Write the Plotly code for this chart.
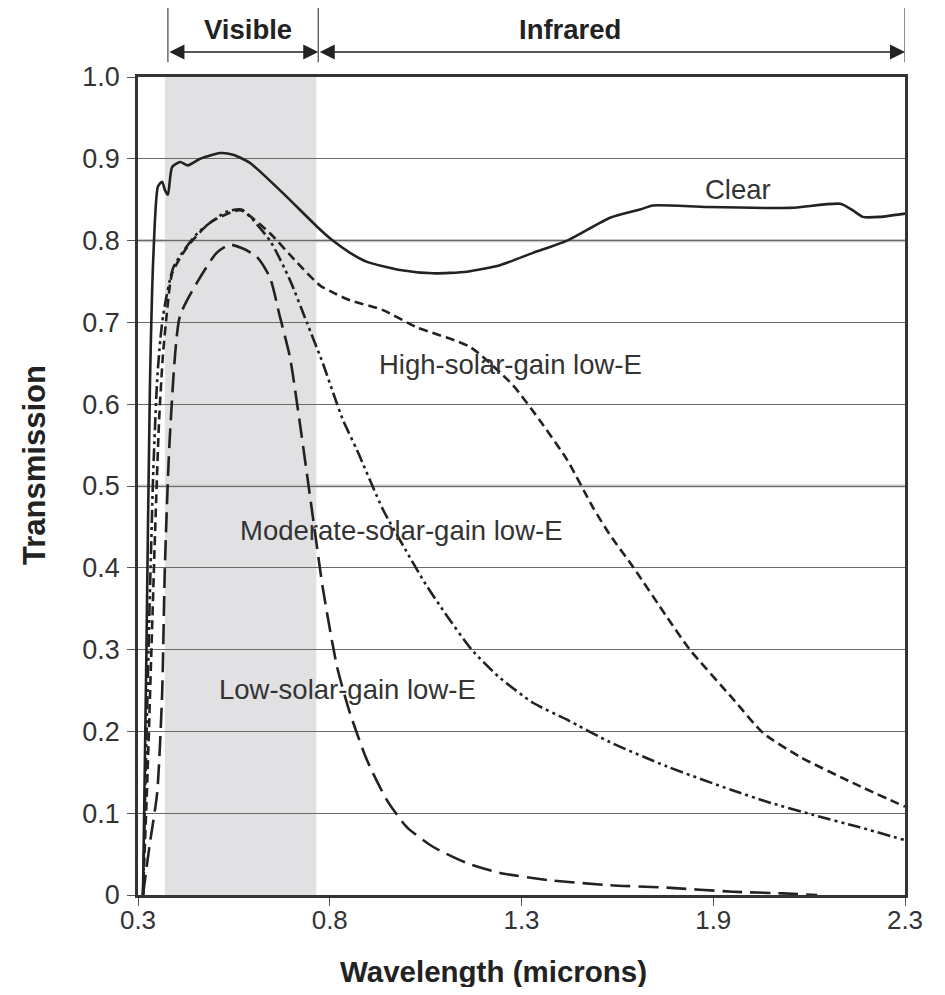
import plotly.graph_objects as go

# ---- data (wavelength in microns, transmission 0..1) ----
clear_x = [0.313, 0.322, 0.331, 0.340, 0.352, 0.363, 0.370, 0.378, 0.389, 0.41, 0.43, 0.462, 0.514, 0.548,
           0.592, 0.678, 0.767, 0.808, 0.853, 0.897, 0.983, 1.069, 1.158, 1.244, 1.33, 1.419, 1.531, 1.609,
           1.643, 1.784, 2.0, 2.131, 2.164, 2.19, 2.235, 2.3]
clear_y = [0.0, 0.30, 0.62, 0.78, 0.866, 0.872, 0.862, 0.856, 0.89, 0.896, 0.892, 0.90, 0.907, 0.905,
           0.895, 0.858, 0.817, 0.80, 0.785, 0.774, 0.764, 0.760, 0.762, 0.770, 0.785, 0.80, 0.828, 0.838,
           0.843, 0.841, 0.840, 0.845, 0.837, 0.829, 0.829, 0.833]

high_x = [0.313, 0.325, 0.335, 0.345, 0.355, 0.365, 0.375, 0.389, 0.428, 0.488, 0.566, 0.644, 0.715, 0.775,
          0.815, 0.853, 0.939, 1.027, 1.166, 1.278, 1.348, 1.419, 1.486, 1.531, 1.591, 1.679, 1.739, 1.851,
          1.93, 2.026, 2.164, 2.3]
high_y = [0.0, 0.15, 0.3, 0.45, 0.58, 0.66, 0.71, 0.76, 0.792, 0.822, 0.837, 0.809, 0.773, 0.745,
          0.735, 0.727, 0.715, 0.694, 0.67, 0.623, 0.58, 0.532, 0.474, 0.44, 0.401, 0.34, 0.30, 0.24,
          0.198, 0.169, 0.137, 0.108]

mod_x = [0.313, 0.32, 0.33, 0.34, 0.35, 0.358, 0.366, 0.393, 0.455, 0.53, 0.57, 0.644, 0.696, 0.741, 0.782,
         0.808, 0.835, 0.871, 0.939, 1.0, 1.05, 1.1, 1.17, 1.24, 1.33, 1.42, 1.53, 1.68, 1.85, 1.94, 2.06,
         2.18, 2.3]
mod_y = [0.0, 0.15, 0.35, 0.52, 0.63, 0.678, 0.71, 0.768, 0.809, 0.835, 0.838, 0.80, 0.752, 0.699, 0.65,
         0.615, 0.58, 0.544, 0.471, 0.42, 0.38, 0.345, 0.30, 0.267, 0.235, 0.214, 0.187, 0.157, 0.128, 0.114,
         0.098, 0.083, 0.067]

low_x = [0.313, 0.33, 0.35, 0.363, 0.37, 0.383, 0.409, 0.453, 0.505, 0.54, 0.575, 0.61, 0.644, 0.67, 0.696,
         0.722, 0.756, 0.782, 0.819, 0.853, 0.897, 0.949, 1.001, 1.069, 1.158, 1.244, 1.374, 1.531, 1.679,
         1.851, 1.982, 2.071]
low_y = [0.0, 0.06, 0.125, 0.247, 0.4, 0.56, 0.707, 0.748, 0.785, 0.795, 0.79, 0.78, 0.755, 0.707, 0.658,
         0.577, 0.462, 0.375, 0.279, 0.222, 0.165, 0.116, 0.083, 0.059, 0.039, 0.027, 0.018, 0.012, 0.009,
         0.004, 0.002, 0.0]

x_tickvals = [0.3, 0.8, 1.3, 1.8, 2.3]
x_ticktext = ["0.3", "0.8", "1.3", "1.9", "2.3"]
y_tickvals = [0, 0.1, 0.2, 0.3, 0.4, 0.5, 0.6, 0.7, 0.8, 0.9, 1.0]
y_ticktext = ["0", "0.1", "0.2", "0.3", "0.4", "0.5", "0.6", "0.7", "0.8", "0.9", "1.0"]

visible_band = [0.37, 0.765]
visible_arrow = [0.378, 0.77]
infrared_arrow = [0.77, 2.3]
region_labels = [("Visible", 0.587), ("Infrared", 1.426)]

labels = [
    ("Clear", 1.865, 0.863),
    ("High-solar-gain low-E", 1.27, 0.648),
    ("Moderate-solar-gain low-E", 0.986, 0.446),
    ("Low-solar-gain low-E", 0.845, 0.251),
]

FONT = "Liberation Sans, Arial, sans-serif"
INK = "#222222"

fig = go.Figure()

series = [
    ("Clear", clear_x, clear_y, "solid"),
    ("High-solar-gain low-E", high_x, high_y, "9px,5px"),
    ("Moderate-solar-gain low-E", mod_x, mod_y, "13px,4px,3px,4px,3px,4px"),
    ("Low-solar-gain low-E", low_x, low_y, "20px,8px"),
]
for name, xs, ys, dash in series:
    fig.add_trace(go.Scatter(
        x=xs, y=ys, name=name, mode="lines",
        line=dict(color=INK, width=2.6, dash=dash, shape="spline", smoothing=0.6),
        showlegend=False, hoverinfo="skip",
    ))

# visible band shading
fig.add_shape(type="rect", xref="x", yref="paper", x0=visible_band[0], x1=visible_band[1], y0=0, y1=1,
              fillcolor="#e1e1e3", line_width=0, layer="below")
# emphasised grid lines
for yv in [0.5, 0.8]:
    fig.add_shape(type="line", xref="paper", yref="y", x0=0, x1=1, y0=yv, y1=yv,
                  line=dict(color="#c8c8c8", width=3.2), layer="between")

# top bracket lines
for xv in [visible_arrow[0], visible_arrow[1], infrared_arrow[1]]:
    fig.add_shape(type="line", xref="x", yref="paper", x0=xv, x1=xv, y0=1.018, y1=1.085,
                  line=dict(color="#444444", width=1.2))

ARROW_Y = 1.0306
for a, b in [visible_arrow, infrared_arrow]:
    fig.add_annotation(x=b, y=ARROW_Y, xref="x", yref="paper", ax=a, ay=0, axref="x", ayref="pixel",
                       text="", showarrow=True, arrowhead=2, arrowside="end+start", arrowsize=2.0,
                       arrowwidth=1.5, arrowcolor="#222222")
for txt, cx in region_labels:
    fig.add_annotation(x=cx, y=1.0575, xref="x", yref="paper", text="<b>%s</b>" % txt,
                       showarrow=False, yanchor="middle",
                       font=dict(family=FONT, size=27.5, color="#222222"))

for txt, lx, ly in labels:
    fig.add_annotation(x=lx, y=ly, xref="x", yref="y", text=txt, showarrow=False,
                       font=dict(family=FONT, size=27.5, color="#333333"))

# axis titles
fig.add_annotation(x=0.464, y=-0.094, xref="paper", yref="paper", text="<b>Wavelength (microns)</b>",
                   showarrow=False, xanchor="center", yanchor="middle",
                   font=dict(family=FONT, size=29.5, color="#222222"))
fig.add_annotation(x=-0.134, y=0.526, xref="paper", yref="paper", text="<b>Transmission</b>",
                   showarrow=False, xanchor="center", yanchor="middle", textangle=-90,
                   font=dict(family=FONT, size=31, color="#222222"))

fig.update_layout(
    width=929, height=979,
    margin=dict(l=130, r=32, t=69, b=92, autoexpand=False),
    paper_bgcolor="white", plot_bgcolor="white",
    font=dict(family=FONT, color="#333333"),
)
fig.update_xaxes(
    range=[0.3, 2.3], tickvals=x_tickvals, ticktext=x_ticktext,
    showgrid=False, zeroline=False,
    showline=True, linecolor="#333333", linewidth=2.5, mirror=True,
    ticks="outside", ticklen=8, tickcolor="#555555", tickwidth=1.2, ticklabelstandoff=-8,
    tickfont=dict(family=FONT, size=26, color="#333333"),
)
fig.update_yaxes(
    range=[0, 1.0], tickvals=y_tickvals, ticktext=y_ticktext,
    showgrid=True, gridcolor="#6a6a6a", gridwidth=1.2, zeroline=False,
    showline=True, linecolor="#333333", linewidth=2.5, mirror=True,
    ticks="outside", ticklen=8, tickcolor="#555555", tickwidth=1.2, ticklabelstandoff=2,
    tickfont=dict(family=FONT, size=27, color="#333333"),
)

fig.write_html("out.html")
